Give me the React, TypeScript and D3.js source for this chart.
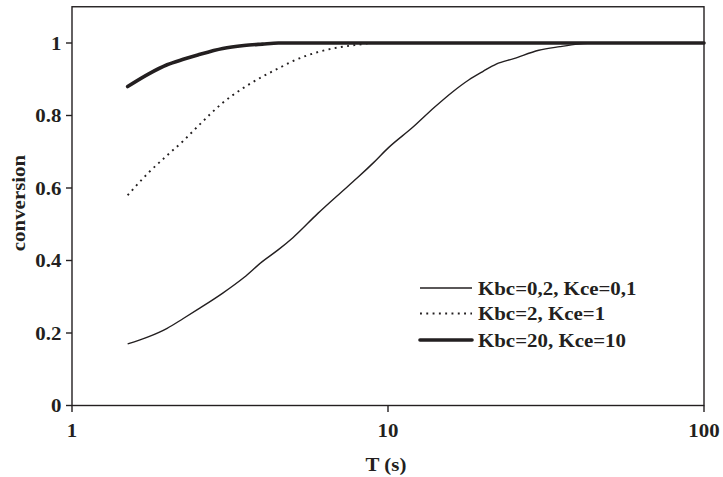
import React from "react";
import * as d3 from "d3";

// Residence time T (s) at which conversion was computed
const times = [1.5, 1.75, 2, 2.25, 2.5, 3, 3.5, 4, 4.5, 5, 6, 7, 8, 9, 10, 12, 14, 16, 18, 20, 22, 25, 30, 35, 40, 45, 50, 60, 70, 80, 90, 100];

// Conversion for Kbc=0,2, Kce=0,1
const lowK = [0.17, 0.19, 0.213, 0.24, 0.265, 0.31, 0.353, 0.397, 0.43, 0.463, 0.53, 0.583, 0.628, 0.67, 0.71, 0.768, 0.822, 0.865, 0.898, 0.922, 0.942, 0.957, 0.98, 0.99, 0.997, 1.0, 1.0, 1.0, 1.0, 1.0, 1.0, 1.0];

// Conversion for Kbc=2, Kce=1
const midK = [0.58, 0.643, 0.69, 0.73, 0.77, 0.835, 0.877, 0.907, 0.93, 0.95, 0.975, 0.988, 0.995, 1.0, 1.0, 1.0, 1.0, 1.0, 1.0, 1.0, 1.0, 1.0, 1.0, 1.0, 1.0, 1.0, 1.0, 1.0, 1.0, 1.0, 1.0, 1.0];

// Conversion for Kbc=20, Kce=10
const highK = [0.88, 0.915, 0.94, 0.955, 0.967, 0.985, 0.993, 0.997, 1.0, 1.0, 1.0, 1.0, 1.0, 1.0, 1.0, 1.0, 1.0, 1.0, 1.0, 1.0, 1.0, 1.0, 1.0, 1.0, 1.0, 1.0, 1.0, 1.0, 1.0, 1.0, 1.0, 1.0];

const seriesLabels = ["Kbc=0,2, Kce=0,1", "Kbc=2, Kce=1", "Kbc=20, Kce=10"];
const xTicks = [1, 10, 100];
const yTicks = [0, 0.2, 0.4, 0.6, 0.8, 1];
const xTitle = "T (s)";
const yTitle = "conversion";

const W = 723;
const H = 477;
const INK = "#231f20";
const FONT = "'Liberation Serif', 'Times New Roman', serif";
const FS = 19;
const STRETCH = 1.1;

type LabelProps = {
  x: number;
  y: number;
  text: string;
  anchor?: "start" | "middle" | "end";
  rotate?: number;
};

function Label({ x, y, text, anchor = "middle", rotate = 0 }: LabelProps) {
  return (
    <text
      transform={`translate(${x},${y}) rotate(${rotate}) scale(${STRETCH},1)`}
      textAnchor={anchor}
      fontFamily={FONT}
      fontWeight="bold"
      fontSize={FS}
      fill={INK}
    >
      {text}
    </text>
  );
}

export default function App() {
  const left = 72;
  const right = 704;
  const top = 6.75;
  const bottom = 405.5;

  const x = d3.scaleLog().domain([1, 100]).range([left, right]);
  const y = d3.scaleLinear().domain([0, 1.1]).range([bottom, top]);

  const line = d3
    .line<[number, number]>()
    .x((d) => x(d[0]))
    .y((d) => y(d[1]))
    .curve(d3.curveMonotoneX);

  const path = (vals: number[]) =>
    line(times.map((t, i) => [t, vals[i]] as [number, number])) || "";

  const styles = [
    { width: 1.4, dash: undefined as string | undefined, cap: "butt" },
    { width: 1.9, dash: "1.9,4.4", cap: "butt" },
    { width: 3.6, dash: undefined as string | undefined, cap: "round" },
  ];
  const data = [lowK, midK, highK];

  const legendX1 = 420;
  const legendX2 = 472;
  const legendRows = [288, 313.5, 340];

  return (
    <svg width={W} height={H} style={{ position: "absolute", left: 0, top: 0 }}>
      <rect x={0} y={0} width={W} height={H} fill="#fff" />

      {/* plot frame */}
      <rect
        x={left}
        y={top}
        width={right - left}
        height={bottom - top}
        fill="none"
        stroke={INK}
        strokeWidth={1.4}
      />

      {/* y axis ticks and labels */}
      {yTicks.map((v) => (
        <g key={`y${v}`}>
          <line x1={left - 6} x2={left} y1={y(v)} y2={y(v)} stroke={INK} strokeWidth={1.4} />
          <Label x={61.5} y={y(v) + 6.5} text={v === 0 || v === 1 ? String(v) : v.toFixed(1)} anchor="end" />
        </g>
      ))}

      {/* x axis ticks and labels */}
      {xTicks.map((v) => (
        <g key={`x${v}`}>
          <line x1={x(v)} x2={x(v)} y1={bottom} y2={bottom + 6.5} stroke={INK} strokeWidth={1.4} />
          <Label x={x(v)} y={437} text={String(v)} />
        </g>
      ))}

      <Label x={386} y={471} text={xTitle} />
      <Label x={25} y={203} text={yTitle} rotate={-90} />

      {/* curves */}
      {data.map((vals, i) => (
        <path
          key={`s${i}`}
          d={path(vals)}
          fill="none"
          stroke={INK}
          strokeWidth={styles[i].width}
          strokeDasharray={styles[i].dash}
          strokeLinecap={styles[i].cap as "butt" | "round"}
          strokeLinejoin="round"
        />
      ))}

      {/* legend */}
      {seriesLabels.map((lab, i) => (
        <g key={`l${i}`}>
          <line
            x1={legendX1}
            x2={legendX2}
            y1={legendRows[i]}
            y2={legendRows[i]}
            stroke={INK}
            strokeWidth={styles[i].width}
            strokeDasharray={styles[i].dash}
            strokeLinecap={styles[i].cap as "butt" | "round"}
          />
          <Label x={478} y={legendRows[i] + 6.5} text={lab} anchor="start" />
        </g>
      ))}
    </svg>
  );
}
